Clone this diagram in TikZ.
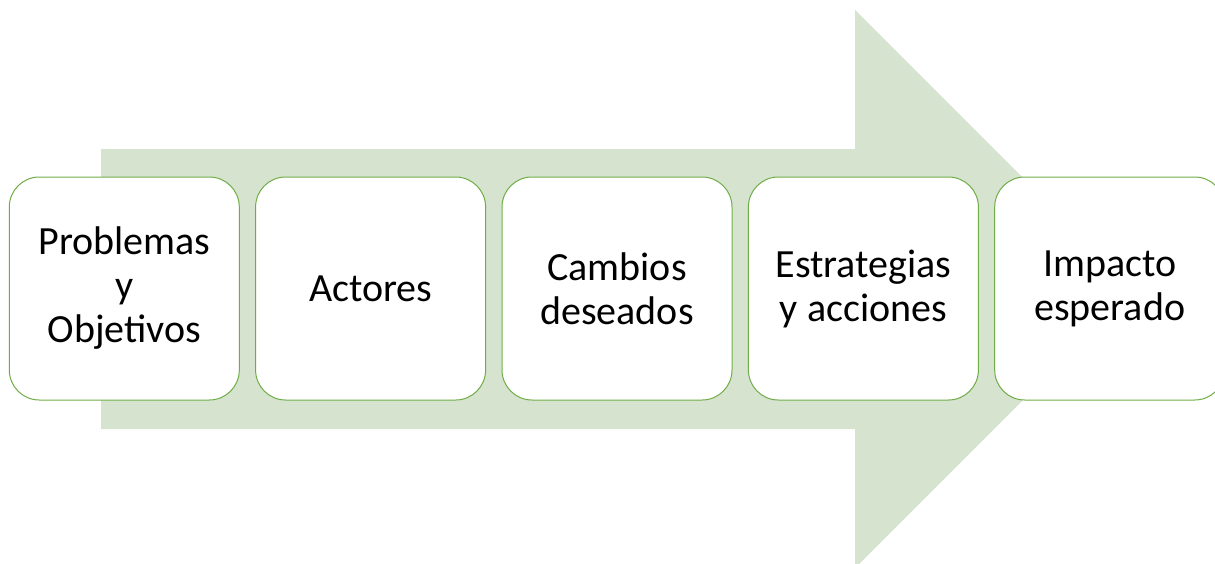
\documentclass[tikz,border=0pt]{standalone}
\usepackage{fontspec}
\setmainfont{Carlito}
\definecolor{arrowgreen}{HTML}{D5E3CF}
\definecolor{boxgreen}{HTML}{70AD47}
\begin{document}
\begin{tikzpicture}[x=1pt,y=-1pt,
  stagebox/.style={draw=boxgreen, line width=1pt, fill=white, rounded corners=30pt,
    minimum width=230pt, minimum height=223pt, inner sep=0pt, align=center,
    font=\fontsize{40}{44}\selectfont}]
\useasboundingbox (0,0) rectangle (1215,563);
\fill[arrowgreen] (101,149) -- (855,149) -- (855,10) -- (1134,289) -- (855,568) -- (855,429) -- (101,429) -- cycle;
\node[stagebox] (b1) at (124.3,288.5) {Problemas\\y\\Objetivos};
\node[stagebox] (b2) at (370.6,288.5) {Actores};
\node[stagebox] (b3) at (617,288.5) {Cambios\\deseados};
\node[stagebox] (b4) at (863.4,288.5) {Estrategias\\y acciones};
\node[stagebox] (b5) at (1109.7,288.5) {Impacto\\esperado};
\end{tikzpicture}
\end{document}
